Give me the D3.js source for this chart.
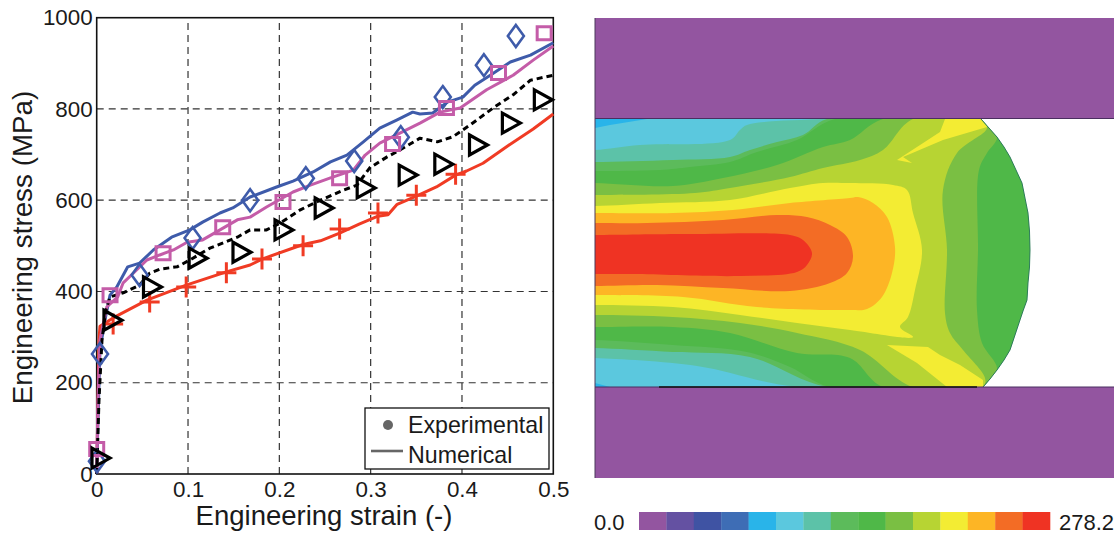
<!DOCTYPE html>
<html>
<head>
<meta charset="utf-8">
<script src="https://cdnjs.cloudflare.com/ajax/libs/d3/7.8.5/d3.min.js"></script>
<style>
  html, body { margin: 0; padding: 0; background: #fff; }
  svg { display: block; }
  text { font-family: "Liberation Sans", Arial, sans-serif; fill: #1a1a1a; }
</style>
</head>
<body>
<svg id="chart" width="1118" height="534"></svg>
<script>
// experimental points [strain, stress]
var diamondPoints = [[0.0003, 28], [0.0036, 263], [0.047, 436], [0.105, 517], [0.168, 600], [0.229, 648], [0.282, 686], [0.333, 738], [0.379, 826], [0.424, 896], [0.459, 960]];
var squarePoints = [[0, 55], [0.0146, 392], [0.0727, 484], [0.138, 541], [0.204, 596], [0.266, 648], [0.324, 723], [0.383, 802], [0.44, 879], [0.49, 966]];
var trianglePoints = [[0.0036, 35], [0.0167, 337], [0.06, 410], [0.11, 473], [0.158, 486], [0.204, 535], [0.248, 583], [0.294, 627], [0.34, 655], [0.379, 679], [0.417, 721], [0.453, 769], [0.488, 820]];
var plusPoints = [[0.018, 329], [0.058, 377], [0.098, 410], [0.142, 441], [0.181, 471], [0.226, 500], [0.266, 537], [0.308, 572], [0.35, 611], [0.393, 657]];

// numerical curves [strain, stress]
var blueLine = [[0, 0], [0.0014, 118], [0.0036, 272], [0.009, 337], [0.0146, 392], [0.022, 410], [0.034, 454], [0.047, 462], [0.062, 491], [0.082, 519], [0.102, 535], [0.116, 552], [0.135, 572], [0.149, 583], [0.168, 607], [0.197, 629], [0.215, 642], [0.237, 662], [0.256, 684], [0.274, 699], [0.292, 728], [0.31, 758], [0.329, 776], [0.346, 793], [0.354, 789], [0.368, 791], [0.384, 815], [0.401, 826], [0.414, 852], [0.431, 874], [0.453, 903], [0.475, 918], [0.5, 945]];
var pinkLine = [[0, 0], [0.0014, 162], [0.0036, 294], [0.008, 337], [0.011, 366], [0.023, 388], [0.029, 419], [0.04, 440], [0.055, 469], [0.069, 480], [0.084, 491], [0.099, 508], [0.116, 513], [0.135, 535], [0.154, 557], [0.168, 563], [0.186, 585], [0.215, 618], [0.234, 633], [0.256, 649], [0.281, 666], [0.294, 699], [0.31, 725], [0.332, 747], [0.354, 769], [0.376, 793], [0.398, 802], [0.427, 842], [0.456, 874], [0.478, 907], [0.5, 938]];
var blackLine = [[0, 0], [0.0025, 162], [0.0058, 294], [0.01, 359], [0.0146, 388], [0.029, 397], [0.047, 414], [0.058, 440], [0.069, 449], [0.088, 454], [0.102, 469], [0.124, 495], [0.154, 519], [0.168, 535], [0.186, 535], [0.201, 550], [0.223, 579], [0.245, 600], [0.27, 622], [0.285, 633], [0.299, 671], [0.318, 695], [0.332, 710], [0.354, 736], [0.373, 728], [0.39, 739], [0.409, 765], [0.434, 802], [0.456, 831], [0.475, 863], [0.5, 874]];
var redLine = [[0, 0], [0.0014, 150], [0.0025, 294], [0.0036, 324], [0.018, 342], [0.055, 381], [0.098, 414], [0.142, 443], [0.168, 458], [0.181, 471], [0.226, 503], [0.245, 511], [0.266, 528], [0.288, 548], [0.308, 565], [0.319, 568], [0.329, 591], [0.35, 609], [0.372, 629], [0.393, 655], [0.405, 664], [0.423, 681], [0.45, 719], [0.478, 756], [0.5, 789]];

var xTicks = [0, 0.1, 0.2, 0.3, 0.4, 0.5];
var yTicks = [0, 200, 400, 600, 800, 1000];

// contour colours, low to high
var bandColors = ['#9355a0', '#6451a2', '#3f53a3', '#3e6db5', '#29b4e9', '#5bc8de', '#5cc2a8', '#5cbb5b', '#4fb848', '#7abf43', '#b7d433', '#f3ec33', '#fdb525', '#f36c25', '#ef3323'];
var scaleMin = '0.0';
var scaleMax = '278.2';

// billet outline, contour regions [along, across]
var arcRight = [[386, 0], [394, 9], [402, 18], [409, 28], [415, 38], [421, 51], [427, 64], [430, 79], [433, 94], [434.5, 112], [435, 131], [434.5, 148], [433, 164], [432, 181], [428, 192], [422, 210], [415, 231], [409, 241], [402, 251], [395, 260], [388, 268]];
var billet = [[0, 0]].concat(arcRight, [[0, 268]]);
var cornerTop = [[0, 0], [52, 0], [15, 6], [0, 9]];
var cornerBottom = [[0, 264], [15, 268], [0, 268]];
var tealShape = [[0, 31], [45, 26], [135, 21], [145, 11], [152, 6], [232, 0]].concat(arcRight, [[202, 268], [102, 247], [0, 239]]);
var green1Shape = [[0, 43], [78, 41], [135, 38], [155, 31], [182, 23], [208, 16], [232, 0]].concat(arcRight, [[232, 268], [155, 238], [78, 233], [0, 229]]);
var green2Shape = [[0, 52], [65, 51], [95, 48], [135, 43], [162, 33], [202, 21], [240, 0]].concat(arcRight, [[235, 268], [195, 248], [152, 233], [78, 226], [0, 221]]);
var green3Shape = [[0, 64], [78, 67], [128, 59], [182, 46], [228, 28], [255, 21], [288, 0], [386, 0], [402, 18], [392, 34], [384, 51], [383, 131], [382, 191], [387, 224], [402, 250], [388, 268], [288, 268], [255, 239], [202, 234], [135, 214], [78, 208], [0, 208]];
var limeShape = [[0, 76], [100, 74], [135, 69], [195, 58], [228, 49], [265, 41], [288, 31], [318, 0], [386, 0], [392, 9], [362, 34], [348, 71], [352, 131], [350, 194], [355, 214], [368, 231], [390, 259], [388, 268], [318, 268], [265, 231], [202, 214], [145, 204], [78, 198], [0, 196]];
var yellowShape = [[0, 87], [65, 84], [135, 81], [195, 69], [228, 64], [255, 64], [298, 66], [312, 71], [318, 94], [327, 131], [320, 171], [313, 198], [305, 208], [318, 218], [255, 211], [202, 204], [145, 196], [78, 188], [0, 186]];
var yellowTop = [[350, 0], [386, 0], [392, 8], [348, 21], [308, 38], [317, 44], [302, 41], [345, 13]];
var yellowBottom = [[292, 226], [333, 228], [345, 236], [365, 246], [388, 261], [388, 268], [352, 268], [322, 244]];
var orangeShape = [[0, 94], [78, 94], [138, 91], [195, 84], [255, 79], [263, 78], [278, 84], [292, 98], [300, 128], [297, 154], [287, 178], [272, 190], [255, 191], [162, 188], [88, 178], [0, 176]];
var darkOrangeShape = [[0, 104], [52, 104], [128, 101], [182, 96], [212, 98], [235, 106], [252, 118], [258, 138], [252, 154], [235, 164], [195, 172], [128, 169], [62, 166], [0, 167]];
var redShape = [[0, 116], [95, 115], [195, 116], [208, 121], [217, 134], [212, 146], [202, 153], [145, 157], [38, 155], [0, 155]];

var svg = d3.select('#chart');

// ---- left: stress-strain chart ----
var x = d3.scaleLinear().domain([0, 0.5]).range([96.7, 553.3]);
var y = d3.scaleLinear().domain([0, 1000]).range([474, 17.7]);

var grid = svg.append('g').attr('stroke', '#333').attr('stroke-width', 1.2).attr('stroke-dasharray', '7 5');
grid.selectAll('.gx').data(xTicks.slice(1, -1)).enter().append('line')
    .attr('x1', x).attr('x2', x).attr('y1', y(0)).attr('y2', y(1000));
grid.selectAll('.gy').data(yTicks.slice(1, -1)).enter().append('line')
    .attr('y1', y).attr('y2', y).attr('x1', x(0)).attr('x2', x(0.5));

var xAxis = svg.append('g').attr('transform', 'translate(0,' + y(0) + ')')
    .call(d3.axisBottom(x).tickValues(xTicks).tickSize(0).tickPadding(7).tickFormat(function (d) { return d; }));
var yAxis = svg.append('g').attr('transform', 'translate(' + x(0) + ',0)')
    .call(d3.axisLeft(y).tickValues(yTicks).tickSize(0).tickPadding(4).tickFormat(function (d) { return d; }));
[xAxis, yAxis].forEach(function (a) {
    a.select('.domain').remove();
    a.selectAll('text').attr('font-size', 22.4).attr('font-family', '"Liberation Sans", Arial, sans-serif');
});

svg.append('rect').attr('x', x(0)).attr('y', y(1000))
    .attr('width', x(0.5) - x(0)).attr('height', y(0) - y(1000))
    .attr('fill', 'none').attr('stroke', '#111').attr('stroke-width', 1.6);

var line = d3.line().x(function (d) { return x(d[0]); }).y(function (d) { return y(d[1]); });
var curves = [
    { data: redLine, color: '#f03b24', dash: null },
    { data: blueLine, color: '#3e5baa', dash: null },
    { data: pinkLine, color: '#c45ca8', dash: null },
    { data: blackLine, color: '#000', dash: '6 4' }
];
svg.selectAll('.curve').data(curves).enter().append('path')
    .attr('class', 'curve')
    .attr('d', function (d) { return line(d.data); })
    .attr('fill', 'none')
    .attr('stroke', function (d) { return d.color; })
    .attr('stroke-width', 3)
    .attr('stroke-linejoin', 'round')
    .attr('stroke-dasharray', function (d) { return d.dash; });

function markers(points, shape, color, width) {
    svg.append('g').selectAll('path').data(points).enter().append('path')
        .attr('transform', function (d) { return 'translate(' + x(d[0]) + ',' + y(d[1]) + ')'; })
        .attr('d', shape)
        .attr('fill', 'none')
        .attr('stroke', color)
        .attr('stroke-width', width);
}
markers(plusPoints, 'M-10,0H10M0,-10.5V10.5', '#f03b24', 3);
markers(diamondPoints, 'M0,-11L8,0L0,11L-8,0Z', '#3e5baa', 2.6);
markers(squarePoints, 'M-7,-6.5H7V6.5H-7Z', '#c45ca8', 3);
markers(trianglePoints, 'M-8,-10L10,0L-8,10Z', '#000', 3.2);

svg.append('text').attr('x', 324).attr('y', 525)
    .attr('text-anchor', 'middle').attr('font-size', 27.5).text('Engineering strain (-)');
svg.append('text').attr('transform', 'translate(32,247.5) rotate(-90)')
    .attr('text-anchor', 'middle').attr('font-size', 27.8).text('Engineering stress (MPa)');

// legend
var legend = svg.append('g');
legend.append('rect').attr('x', 365).attr('y', 408).attr('width', 184).attr('height', 61)
    .attr('fill', '#fff').attr('stroke', '#111').attr('stroke-width', 1.3);
legend.append('circle').attr('cx', 388).attr('cy', 425).attr('r', 5).attr('fill', '#666');
legend.append('line').attr('x1', 371).attr('x2', 403).attr('y1', 451).attr('y2', 451)
    .attr('stroke', '#666').attr('stroke-width', 2.6);
legend.append('text').attr('x', 408).attr('y', 433).attr('font-size', 23.2).text('Experimental');
legend.append('text').attr('x', 408).attr('y', 463).attr('font-size', 23.2).text('Numerical');

// ---- right: contour map ----
var fx = d3.scaleLinear().domain([0, 435]).range([595, 1030]);
var fy = d3.scaleLinear().domain([0, 268]).range([119, 387]);
var straightLine = d3.line().x(function (d) { return fx(d[0]); }).y(function (d) { return fy(d[1]); });
var smoothLine = d3.line().x(function (d) { return fx(d[0]); }).y(function (d) { return fy(d[1]); })
    .curve(d3.curveCatmullRomClosed.alpha(0.5));

var dieColor = bandColors[0];
svg.append('rect').attr('x', fx(0)).attr('y', 18).attr('width', 519).attr('height', fy(0) - 18).attr('fill', dieColor);
svg.append('rect').attr('x', fx(0)).attr('y', fy(268)).attr('width', 519).attr('height', 478 - fy(268)).attr('fill', dieColor);

var regions = [
    { shape: billet, band: 5, smooth: false },
    { shape: cornerTop, band: 4, smooth: false },
    { shape: cornerBottom, band: 4, smooth: false },
    { shape: tealShape, band: 6, smooth: true },
    { shape: green1Shape, band: 7, smooth: true },
    { shape: green2Shape, band: 8, smooth: true },
    { shape: green3Shape, band: 9, smooth: true },
    { shape: limeShape, band: 10, smooth: true },
    { shape: yellowShape, band: 11, smooth: true },
    { shape: yellowTop, band: 11, smooth: false },
    { shape: yellowBottom, band: 11, smooth: false },
    { shape: orangeShape, band: 12, smooth: true },
    { shape: darkOrangeShape, band: 13, smooth: true },
    { shape: redShape, band: 14, smooth: true }
];

// carry smooth bands past the left edge so the clip cuts them square
function regionPath(d) {
    if (!d.smooth) return straightLine(d.shape) + 'Z';
    var first = d.shape[0], last = d.shape[d.shape.length - 1];
    return smoothLine([[-30, first[1]]].concat(d.shape, [[-30, last[1]]]));
}

svg.append('clipPath').attr('id', 'billetClip').append('path')
    .attr('d', straightLine(billet) + 'Z');
svg.append('g').attr('clip-path', 'url(#billetClip)')
    .selectAll('path').data(regions).enter().append('path')
    .attr('d', regionPath)
    .attr('fill', function (d) { return bandColors[d.band]; });

svg.append('path').attr('d', straightLine(arcRight))
    .attr('fill', 'none').attr('stroke', '#2f7d5a').attr('stroke-width', 1);
svg.append('line').attr('x1', fx(0)).attr('x2', 1114).attr('y1', fy(0) - 0.5).attr('y2', fy(0) - 0.5)
    .attr('stroke', '#4a2f60').attr('stroke-width', 1);
svg.append('line').attr('x1', fx(0)).attr('x2', 1114).attr('y1', fy(268)).attr('y2', fy(268))
    .attr('stroke', '#4a2f60').attr('stroke-width', 1);
svg.append('line').attr('x1', 659).attr('x2', 977).attr('y1', fy(268)).attr('y2', fy(268))
    .attr('stroke', '#111').attr('stroke-width', 1.4);
svg.append('line').attr('x1', fx(0)).attr('x2', fx(0)).attr('y1', 18).attr('y2', 478)
    .attr('stroke', '#4a3a5a').attr('stroke-width', 1);

// colour scale
var barScale = d3.scaleBand().domain(d3.range(bandColors.length)).range([639, 1050]);
svg.append('g').selectAll('rect').data(bandColors).enter().append('rect')
    .attr('x', function (d, i) { return barScale(i); })
    .attr('y', 512)
    .attr('width', barScale.bandwidth() + 0.3)
    .attr('height', 18)
    .attr('fill', function (d) { return d; });
svg.append('text').attr('x', 594).attr('y', 530).attr('font-size', 22).text(scaleMin);
svg.append('text').attr('x', 1059).attr('y', 530).attr('font-size', 22).text(scaleMax);
</script>
</body>
</html>
